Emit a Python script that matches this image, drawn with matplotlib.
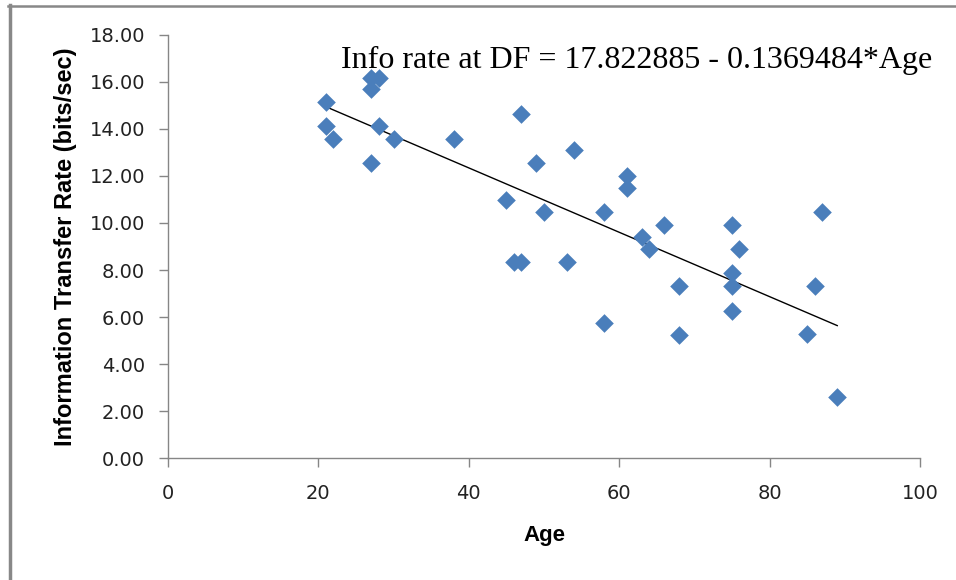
import numpy as np
import matplotlib.pyplot as plt
from matplotlib.lines import Line2D

# Age vs information transfer rate
age = [21, 21, 22, 27, 28, 27, 28, 30, 27, 38,
       47, 54, 49, 61, 61, 45, 50, 58, 66, 63,
       64, 46, 47, 53, 68, 58, 68, 75, 87, 76,
       75, 75, 86, 75, 85, 89]
rate = [15.16, 14.13, 13.59, 16.18, 16.18, 15.69, 14.13, 13.59, 12.54, 13.59,
        14.62, 13.09, 12.55, 12.01, 11.50, 10.96, 10.47, 10.47, 9.93, 9.42,
        8.89, 8.35, 8.35, 8.35, 7.32, 5.73, 5.23, 9.93, 10.48, 8.89,
        7.86, 7.31, 7.31, 6.27, 5.26, 2.61]

intercept = 17.822885
slope = -0.1369484
x_ticks = [0, 20, 40, 60, 80, 100]
y_ticks = [0, 2, 4, 6, 8, 10, 12, 14, 16, 18]

sans = ['Liberation Sans', 'DejaVu Sans']
gray = '#868686'

fig = plt.figure(figsize=(9.56, 5.8), dpi=100)
ax = fig.add_axes([0.1757, 0.2103, 0.9623 - 0.1757, 0.9397 - 0.2103])

ax.scatter(age, rate, marker='D', s=90, color='#4A7EBB', zorder=3, linewidths=0)

xs = np.array([min(age), max(age)])
ax.plot(xs, intercept + slope * xs, color='black', lw=1, zorder=2)

ax.set_xlim(0, 100)
ax.set_ylim(0, 18)
ax.set_xticks(x_ticks)
ax.set_yticks(y_ticks)
ax.set_yticklabels([f"{v:.2f}" for v in y_ticks])

for s in ['top', 'right']:
    ax.spines[s].set_visible(False)
for s in ['left', 'bottom']:
    ax.spines[s].set_color(gray)
    ax.spines[s].set_linewidth(1)
ax.tick_params(axis='both', direction='out', length=6.5, color=gray, width=1,
               labelsize=14, labelcolor='#222222')
ax.tick_params(axis='y', pad=10)
ax.tick_params(axis='x', pad=12)

ax.set_xlabel('Age', fontsize=16, fontweight='bold', family=sans, labelpad=16)
ax.set_ylabel('Information Transfer Rate (bits/sec)', fontsize=17,
              fontweight='bold', family=sans, labelpad=9)

ax.text(1.017, 0.94, 'Info rate at DF = 17.822885 - 0.1369484*Age',
        transform=ax.transAxes, ha='right', va='center',
        fontsize=23, family=['Liberation Serif', 'DejaVu Serif'])

# chart area border (only top and left edges visible)
fig.add_artist(Line2D([9.5 / 956, 9.5 / 956], [0, 1 - 5 / 580], transform=fig.transFigure,
                      color='#888888', lw=2.5))
fig.add_artist(Line2D([8 / 956, 1], [1 - 5.5 / 580, 1 - 5.5 / 580], transform=fig.transFigure,
                      color='#888888', lw=1.8))

fig.savefig('out.png', dpi=100)
